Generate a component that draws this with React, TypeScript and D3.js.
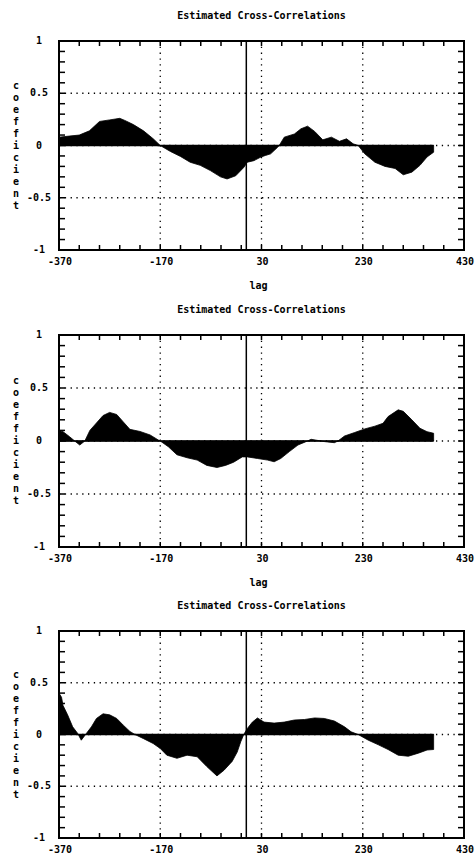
import React, { useEffect, useRef } from "react";
import * as d3 from "d3";

// lag / coefficient pairs
const lags1 = [-370, -350, -330, -310, -290, -270, -250, -240, -223, -203, -184, -170, -150, -130, -111, -91, -71, -51, -38, -21, -5, 2, 15, 29, 38, 48, 62, 65, 75, 95, 108, 121, 135, 151, 168, 184, 198, 211, 221, 234, 254, 274, 294, 310, 327, 343, 357, 370];
const coef1 = [0.08, 0.09, 0.1, 0.14, 0.23, 0.245, 0.26, 0.24, 0.2, 0.14, 0.065, 0, -0.057, -0.105, -0.16, -0.19, -0.24, -0.3, -0.32, -0.29, -0.21, -0.16, -0.145, -0.11, -0.095, -0.08, -0.016, 0, 0.08, 0.11, 0.16, 0.185, 0.135, 0.054, 0.08, 0.04, 0.064, 0.016, 0, -0.08, -0.16, -0.2, -0.22, -0.28, -0.255, -0.19, -0.11, -0.064];

const lags2 = [-370, -362, -349, -339, -329, -319, -309, -296, -283, -270, -256, -243, -230, -210, -190, -174, -170, -154, -137, -117, -97, -78, -58, -41, -25, -8, 2, 22, 42, 55, 68, 85, 102, 118, 128, 155, 174, 181, 194, 214, 234, 254, 270, 280, 300, 310, 327, 343, 357, 370];
const coef2 = [0.1, 0.088, 0.04, 0, -0.038, 0, 0.1, 0.17, 0.24, 0.27, 0.25, 0.18, 0.11, 0.09, 0.057, 0.01, 0, -0.054, -0.13, -0.158, -0.18, -0.23, -0.25, -0.23, -0.2, -0.15, -0.15, -0.165, -0.18, -0.196, -0.165, -0.1, -0.038, -0.006, 0.016, -0.006, -0.016, 0, 0.047, 0.08, 0.114, 0.14, 0.167, 0.23, 0.294, 0.28, 0.2, 0.12, 0.088, 0.073];

const lags3 = [-370, -365, -362, -353, -343, -333, -326, -316, -306, -296, -283, -270, -256, -243, -230, -220, -203, -184, -170, -157, -137, -117, -97, -78, -58, -44, -28, -18, -11, -5, 2, 12, 22, 35, 55, 75, 95, 115, 135, 154, 174, 194, 207, 221, 241, 261, 280, 300, 320, 340, 357, 370];
const coef3 = [0.4, 0.36, 0.28, 0.19, 0.074, 0.01, -0.055, 0.01, 0.074, 0.155, 0.2, 0.19, 0.155, 0.09, 0.03, 0, -0.04, -0.087, -0.135, -0.2, -0.23, -0.2, -0.215, -0.31, -0.4, -0.345, -0.26, -0.17, -0.07, 0, 0.058, 0.12, 0.16, 0.12, 0.11, 0.12, 0.14, 0.145, 0.16, 0.155, 0.13, 0.074, 0.026, 0, -0.055, -0.1, -0.145, -0.2, -0.21, -0.18, -0.15, -0.145];

const xLabels = [-370, -170, 30, 230, 430];
const yLabels = [1, 0.5, 0, -0.5, -1];
const xGrid = [-170, 30, 230];
const yGrid = [0.5, 0, -0.5];
const title = "Estimated Cross-Correlations";
const xTitle = "lag";
const yTitle = "coefficient";

// the bottom panel's "lag" falls below the page in the original
const panels = [
  { lags: lags1, coef: coef1, top: 41, bottom: 250, showLag: true },
  { lags: lags2, coef: coef2, top: 335, bottom: 547, showLag: true },
  { lags: lags3, coef: coef3, top: 631, bottom: 838, showLag: false },
];

const FONT = "'DejaVu Sans Mono', monospace";

export default function App() {
  const ref = useRef<SVGSVGElement>(null);

  useEffect(() => {
    const svg = d3.select(ref.current);
    svg.selectAll("*").remove();

    const left = 59;
    const right = 464;
    const x = d3.scaleLinear().domain([-370, 430]).range([left, right]);

    panels.forEach((p) => {
      const y = d3.scaleLinear().domain([-1, 1]).range([p.bottom, p.top]);
      const g = svg.append("g");
      const data = p.lags.map((l, i) => [l, p.coef[i]] as [number, number]);

      // grid
      g.selectAll(".gx")
        .data(xGrid)
        .join("line")
        .attr("x1", (d) => x(d))
        .attr("x2", (d) => x(d))
        .attr("y1", p.top)
        .attr("y2", p.bottom)
        .attr("stroke", "#000")
        .attr("stroke-width", 1.3)
        .attr("stroke-dasharray", "1.3,4.5");
      g.selectAll(".gy")
        .data(yGrid)
        .join("line")
        .attr("x1", left)
        .attr("x2", right)
        .attr("y1", (d) => y(d))
        .attr("y2", (d) => y(d))
        .attr("stroke", "#000")
        .attr("stroke-width", 1.3)
        .attr("stroke-dasharray", "1.3,4.5");

      // filled correlation area
      const area = d3
        .area<[number, number]>()
        .x((d) => x(d[0]))
        .y0(y(0))
        .y1((d) => y(d[1]));
      g.append("path").datum(data).attr("d", area).attr("fill", "#000").attr("stroke", "#000").attr("stroke-width", 0.8);
      g.append("line")
        .attr("x1", x(p.lags[0]))
        .attr("x2", x(p.lags[p.lags.length - 1]))
        .attr("y1", y(0))
        .attr("y2", y(0))
        .attr("stroke", "#000")
        .attr("stroke-width", 1.5);

      // lag 0 line
      g.append("line")
        .attr("x1", x(0))
        .attr("x2", x(0))
        .attr("y1", p.top)
        .attr("y2", p.bottom)
        .attr("stroke", "#000")
        .attr("stroke-width", 1.5);

      // inward ticks on all sides
      const xt = d3.range(-370, 431, 40);
      const yt = d3.range(-10, 11).map((d) => d / 10);
      const tk = 5;
      g.selectAll(".tb")
        .data(xt)
        .join("line")
        .attr("x1", (d) => x(d))
        .attr("x2", (d) => x(d))
        .attr("y1", p.bottom)
        .attr("y2", p.bottom - tk)
        .attr("stroke", "#000")
        .attr("stroke-width", 1.5);
      g.selectAll(".tt")
        .data(xt)
        .join("line")
        .attr("x1", (d) => x(d))
        .attr("x2", (d) => x(d))
        .attr("y1", p.top)
        .attr("y2", p.top + tk)
        .attr("stroke", "#000")
        .attr("stroke-width", 1.5);
      g.selectAll(".tl")
        .data(yt)
        .join("line")
        .attr("x1", left)
        .attr("x2", left + tk + 1)
        .attr("y1", (d) => y(d))
        .attr("y2", (d) => y(d))
        .attr("stroke", "#000")
        .attr("stroke-width", 1.5);
      g.selectAll(".tr")
        .data(yt)
        .join("line")
        .attr("x1", right)
        .attr("x2", right - tk - 1)
        .attr("y1", (d) => y(d))
        .attr("y2", (d) => y(d))
        .attr("stroke", "#000")
        .attr("stroke-width", 1.5);

      // frame
      g.append("rect")
        .attr("x", left)
        .attr("y", p.top)
        .attr("width", right - left)
        .attr("height", p.bottom - p.top)
        .attr("fill", "none")
        .attr("stroke", "#000")
        .attr("stroke-width", 2);

      // labels
      const txt = (sel: any) =>
        sel.attr("font-family", FONT).attr("font-size", 10).attr("font-weight", "bold").attr("fill", "#000").attr("dominant-baseline", "middle");

      g.selectAll(".xl")
        .data(xLabels)
        .join("text")
        .call(txt)
        .attr("x", (d) => x(d) + 1)
        .attr("y", p.bottom + 12)
        .attr("text-anchor", "middle")
        .text((d) => String(d));
      g.selectAll(".yl")
        .data(yLabels)
        .join("text")
        .call(txt)
        .attr("x", 39)
        .attr("y", (d) => y(d))
        .attr("text-anchor", "middle")
        .text((d) => String(d));

      g.append("text")
        .call(txt)
        .attr("x", (left + right) / 2)
        .attr("y", p.top - 25)
        .attr("text-anchor", "middle")
        .text(title);
      if (p.showLag) {
        g.append("text")
          .call(txt)
          .attr("x", (left + right) / 2 - 3)
          .attr("y", p.bottom + 36)
          .attr("text-anchor", "middle")
          .text(xTitle);
      }

      const letters = yTitle.split("");
      g.selectAll(".yt")
        .data(letters)
        .join("text")
        .call(txt)
        .attr("x", 16)
        .attr("y", (_d, i) => y(0) + (i - (letters.length - 1) / 2) * 12)
        .attr("text-anchor", "middle")
        .text((d) => d);
    });
  }, []);

  return (
    <svg
      ref={ref}
      width={476}
      height={858}
      style={{ position: "absolute", left: 0, top: 0, background: "#fff" }}
    />
  );
}
